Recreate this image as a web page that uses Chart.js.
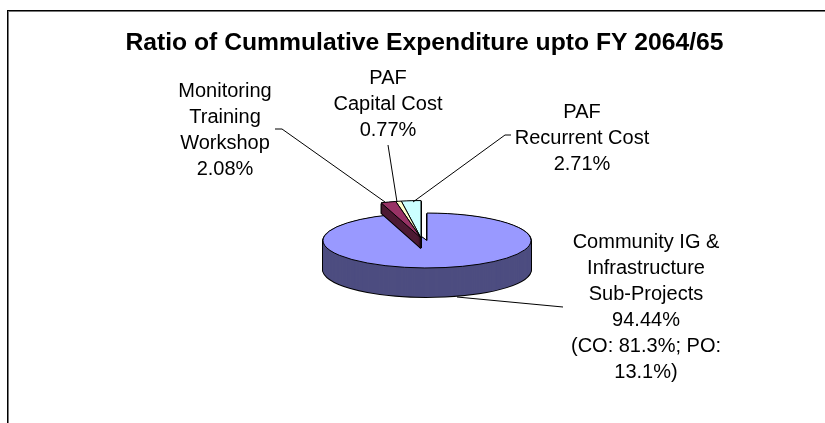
<!DOCTYPE html>
<html>
<head>
<meta charset="utf-8">
<script src="https://cdn.jsdelivr.net/npm/chart.js@4"></script>
<style>
    html, body { margin: 0; background: #fff; }
    #wrap { position: relative; width: 825px; height: 423px; overflow: hidden; }
    #frame { position: absolute; left: 7px; top: 10px; width: 900px; height: 500px; border: 1px solid #000; box-shadow: inset 1px 1px 0 #777; }
    canvas { position: absolute; left: 0; top: 0; }
</style>
</head>
<body>
<div id="wrap">
    <div id="frame"></div>
    <canvas id="pie-chart" width="825" height="423"></canvas>
</div>
<script>
// Cumulative expenditure pie, tilted to look like the 3D office chart

const CATEGORIES = ['Community IG & Infrastructure Sub-Projects', 'Monitoring Training Workshop', 'PAF Capital Cost', 'PAF Recurrent Cost'];
const VALUES = [94.44, 2.08, 0.77, 2.71];
const TOP_COLORS = ['#9999ff', '#993366', '#ffffcc', '#ccffff'];
const SIDE_COLORS = ['#4d4d80', '#4d1a33', '#80806a', '#668080'];

const TITLE = 'Ratio of Cummulative Expenditure upto FY 2064/65';

const LABELS = [
    { x: 646, y: 248, lines: ['Community IG &', 'Infrastructure', 'Sub-Projects', '94.44%', '(CO: 81.3%; PO:', '13.1%)'] },
    { x: 225, y: 97, lines: ['Monitoring', 'Training', 'Workshop', '2.08%'] },
    { x: 388, y: 84, lines: ['PAF', 'Capital Cost', '0.77%'] },
    { x: 582, y: 118, lines: ['PAF', 'Recurrent Cost', '2.71%'] }
];
const LINE_HEIGHT = 26;

const LEADERS = [
    [[457, 297], [563, 307]],
    [[275, 129], [282, 129], [385, 202]],
    [[388, 145], [397, 202]],
    [[511, 135], [505, 135], [413, 202]]
];

const PIE = { x: 427, y: 240.5, sx: 1, sy: 0.264, depth: 29 };
const WEDGE = { x: 421, y: 238, sx: 1.12, sy: 0.36, depth: 10 };

/**
 * Draw one arc element squashed, keeping the outline 1px wide
 */
function drawArc(ctx, el, place, dy, fill, stroke, width) {
    const saved = el.options;
    el.options = Object.assign({}, saved, { backgroundColor: fill, borderColor: stroke, borderWidth: width });
    const strokeFn = ctx.stroke;
    ctx.stroke = function () {
        ctx.save();
        ctx.setTransform(1, 0, 0, 1, 0, 0);
        strokeFn.call(ctx);
        ctx.restore();
    };
    ctx.save();
    ctx.translate(place.x, place.y + dy);
    ctx.scale(place.sx, place.sy);
    ctx.translate(-el.x, -el.y);
    el.draw(ctx);
    ctx.restore();
    delete ctx.stroke;
    el.options = saved;
}

function drawSlice(ctx, el, i) {
    const place = i === 0 ? PIE : WEDGE;
    for (let d = place.depth; d > 0; d--) {
        drawArc(ctx, el, place, d, '#000', '#000', 2);
    }
    for (let d = place.depth; d > 0; d--) {
        drawArc(ctx, el, place, d, SIDE_COLORS[i], SIDE_COLORS[i], 0);
    }
}

const tiltedPie = {
    id: 'tiltedPie',
    beforeDatasetDraw(chart, args) {
        const ctx = chart.ctx;
        const arcs = args.meta.data;
        // the big slice goes down first, the exploded wedges sit over it
        drawSlice(ctx, arcs[0], 0);
        drawArc(ctx, arcs[0], PIE, 0, TOP_COLORS[0], '#000', 1);
        [3, 2, 1].forEach(i => drawSlice(ctx, arcs[i], i));
        [3, 2, 1].forEach(i => drawArc(ctx, arcs[i], WEDGE, 0, TOP_COLORS[i], '#000', 1));
        return false;
    },
    afterDraw(chart) {
        const ctx = chart.ctx;
        ctx.save();
        ctx.strokeStyle = '#000';
        ctx.lineWidth = 1;
        LEADERS.forEach(l => {
            ctx.beginPath();
            l.forEach((p, n) => n ? ctx.lineTo(p[0], p[1]) : ctx.moveTo(p[0], p[1]));
            ctx.stroke();
        });
        ctx.fillStyle = '#000';
        ctx.font = '20px "Liberation Sans", Arial, sans-serif';
        ctx.textAlign = 'center';
        ctx.textBaseline = 'alphabetic';
        LABELS.forEach(label => {
            label.lines.forEach((line, n) => ctx.fillText(line, label.x, label.y + n * LINE_HEIGHT));
        });
        ctx.restore();
    }
};

new Chart(document.getElementById('pie-chart').getContext('2d'), {
    type: 'pie',
    data: {
        labels: CATEGORIES,
        datasets: [{
            data: VALUES,
            backgroundColor: TOP_COLORS,
            borderColor: '#000',
            borderWidth: 1
        }]
    },
    options: {
        responsive: false,
        animation: false,
        radius: 104,
        layout: { padding: { left: 24 } },
        plugins: {
            legend: { display: false },
            tooltip: { enabled: false },
            title: {
                display: true,
                text: TITLE,
                color: '#000',
                padding: { top: 28, bottom: 10 },
                font: { family: '"Liberation Sans", Arial, sans-serif', size: 24.7, weight: 'bold' }
            }
        }
    },
    plugins: [tiltedPie]
});
</script>
</body>
</html>
